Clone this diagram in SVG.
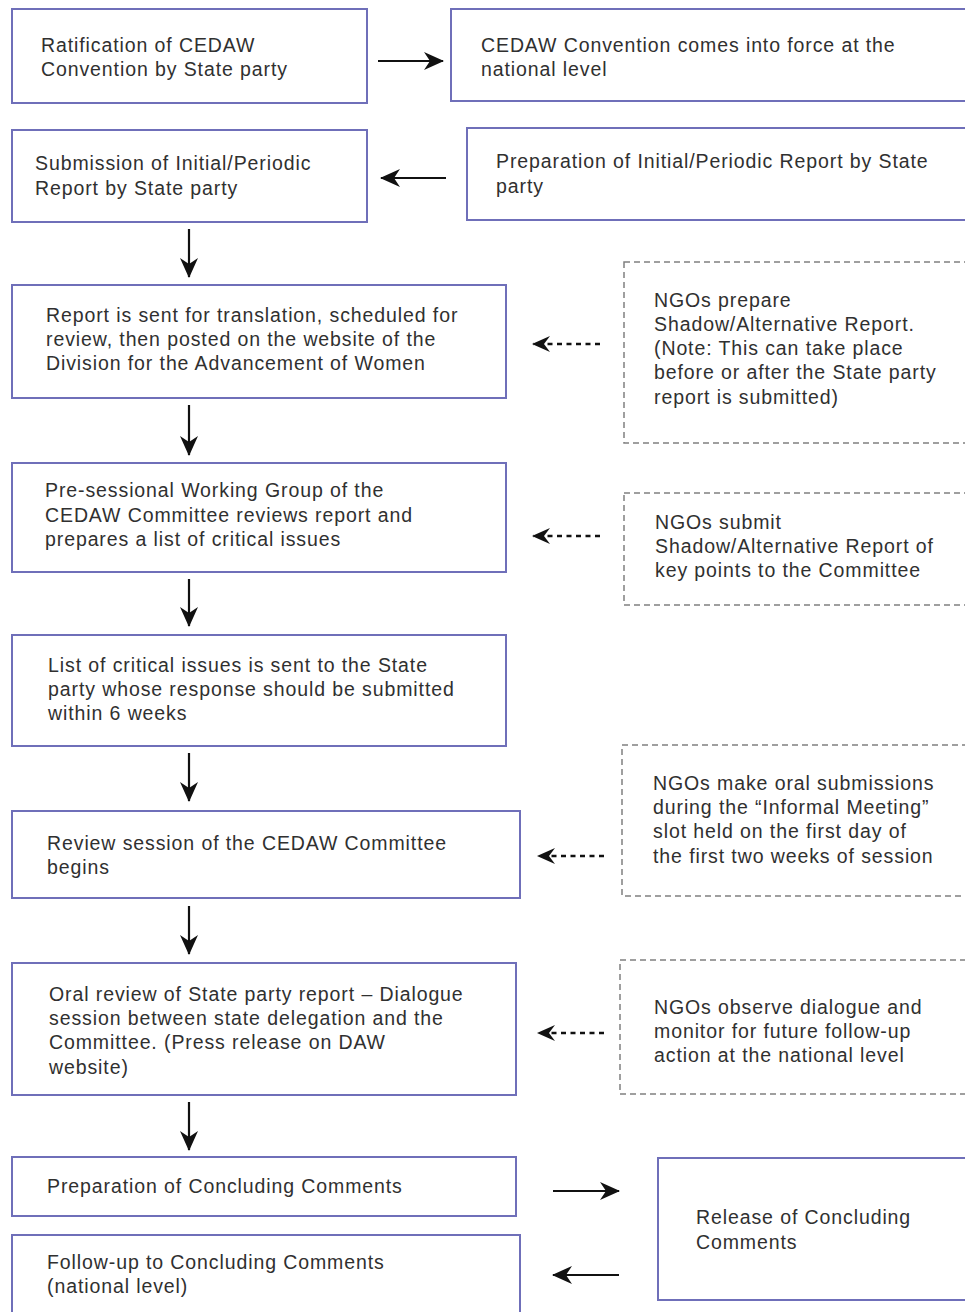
<svg xmlns="http://www.w3.org/2000/svg" width="965" height="1312" viewBox="0 0 965 1312">
<style>
.box{fill:#fff;stroke:#6f6fb9;stroke-width:2}
.dbox{fill:#fff;stroke:#808080;stroke-width:1.5;stroke-dasharray:6 4}
.t{font-family:"Liberation Sans",Arial,sans-serif;font-size:19.5px;letter-spacing:0.9px;fill:#303030}
.c{stroke:#111;stroke-width:2.2;fill:none}
.d{stroke:#111;stroke-width:2.4;fill:none;stroke-dasharray:5 4.5}
</style>
<defs>
<marker id="ah" markerWidth="20" markerHeight="18" refX="19" refY="9" orient="auto" markerUnits="userSpaceOnUse" overflow="visible">
<path d="M0,0 L20,9 L0,18 L6,9 Z" fill="#111"/>
</marker>
<marker id="ahs" markerWidth="18" markerHeight="16" refX="17" refY="8" orient="auto" markerUnits="userSpaceOnUse" overflow="visible">
<path d="M0,0 L18,8 L0,16 L6,8 Z" fill="#111"/>
</marker>
</defs>
<rect width="965" height="1312" fill="#fff"/>
<g id="n1"><rect class="box" x="12" y="9" width="355" height="94"/><text class="t" x="41" y="52">Ratification of CEDAW</text><text class="t" x="41" y="76">Convention by State party</text></g>
<g id="n2"><rect class="box" x="451" y="9" width="520" height="92"/><text class="t" x="481" y="52">CEDAW Convention comes into force at the</text><text class="t" x="481" y="76">national level</text></g>
<g id="n3"><rect class="box" x="12" y="130" width="355" height="92"/><text class="t" x="35" y="170">Submission of Initial/Periodic</text><text class="t" x="35" y="195">Report by State party</text></g>
<g id="n4"><rect class="box" x="467" y="128" width="504" height="92"/><text class="t" x="496" y="168">Preparation of Initial/Periodic Report by State</text><text class="t" x="496" y="193">party</text></g>
<g id="n5"><rect class="box" x="12" y="285" width="494" height="113"/><text class="t" x="46" y="322">Report is sent for translation, scheduled for</text><text class="t" x="46" y="346">review, then posted on the website of the</text><text class="t" x="46" y="370">Division for the Advancement of Women</text></g>
<g id="n6"><rect class="dbox" x="624" y="262" width="347" height="181"/><text class="t" x="654" y="307">NGOs prepare</text><text class="t" x="654" y="331">Shadow/Alternative Report.</text><text class="t" x="654" y="355">(Note: This can take place</text><text class="t" x="654" y="379">before or after the State party</text><text class="t" x="654" y="404">report is submitted)</text></g>
<g id="n7"><rect class="box" x="12" y="463" width="494" height="109"/><text class="t" x="45" y="497">Pre-sessional Working Group of the</text><text class="t" x="45" y="522">CEDAW Committee reviews report and</text><text class="t" x="45" y="546">prepares a list of critical issues</text></g>
<g id="n8"><rect class="dbox" x="624" y="493" width="347" height="112"/><text class="t" x="655" y="529">NGOs submit</text><text class="t" x="655" y="553">Shadow/Alternative Report of</text><text class="t" x="655" y="577">key points to the Committee</text></g>
<g id="n9"><rect class="box" x="12" y="635" width="494" height="111"/><text class="t" x="48" y="672">List of critical issues is sent to the State</text><text class="t" x="48" y="696">party whose response should be submitted</text><text class="t" x="48" y="720">within 6 weeks</text></g>
<g id="n10"><rect class="box" x="12" y="811" width="508" height="87"/><text class="t" x="47" y="850">Review session of the CEDAW Committee</text><text class="t" x="47" y="874">begins</text></g>
<g id="n11"><rect class="dbox" x="622" y="745" width="349" height="151"/><text class="t" x="653" y="790">NGOs make oral submissions</text><text class="t" x="653" y="814">during the “Informal Meeting”</text><text class="t" x="653" y="838">slot held on the first day of</text><text class="t" x="653" y="863">the first two weeks of session</text></g>
<g id="n12"><rect class="box" x="12" y="963" width="504" height="132"/><text class="t" x="49" y="1001">Oral review of State party report – Dialogue</text><text class="t" x="49" y="1025">session between state delegation and the</text><text class="t" x="49" y="1049">Committee. (Press release on DAW</text><text class="t" x="49" y="1074">website)</text></g>
<g id="n13"><rect class="dbox" x="620" y="960" width="351" height="134"/><text class="t" x="654" y="1014">NGOs observe dialogue and</text><text class="t" x="654" y="1038">monitor for future follow-up</text><text class="t" x="654" y="1062">action at the national level</text></g>
<g id="n14"><rect class="box" x="12" y="1157" width="504" height="59"/><text class="t" x="47" y="1193">Preparation of Concluding Comments</text></g>
<g id="n15"><rect class="box" x="12" y="1235" width="508" height="90"/><text class="t" x="47" y="1269">Follow-up to Concluding Comments</text><text class="t" x="47" y="1293">(national level)</text></g>
<g id="n16"><rect class="box" x="658" y="1158" width="313" height="142"/><text class="t" x="696" y="1224">Release of Concluding</text><text class="t" x="696" y="1249">Comments</text></g>
<g id="connectors">
<line class="c" x1="378" y1="61" x2="443" y2="61" marker-end="url(#ah)"/>
<line class="c" x1="446" y1="178" x2="381" y2="178" marker-end="url(#ah)"/>
<line class="c" x1="189" y1="229" x2="189" y2="277" marker-end="url(#ah)"/>
<line class="c" x1="189" y1="405" x2="189" y2="455" marker-end="url(#ah)"/>
<line class="c" x1="189" y1="579" x2="189" y2="626" marker-end="url(#ah)"/>
<line class="c" x1="189" y1="753" x2="189" y2="801" marker-end="url(#ah)"/>
<line class="c" x1="189" y1="906" x2="189" y2="954" marker-end="url(#ah)"/>
<line class="c" x1="189" y1="1102" x2="189" y2="1150" marker-end="url(#ah)"/>
<line class="d" x1="600" y1="344" x2="533" y2="344" marker-end="url(#ahs)"/>
<line class="d" x1="600" y1="536" x2="533" y2="536" marker-end="url(#ahs)"/>
<line class="d" x1="604" y1="856" x2="538" y2="856" marker-end="url(#ahs)"/>
<line class="d" x1="604" y1="1033" x2="538" y2="1033" marker-end="url(#ahs)"/>
<line class="c" x1="553" y1="1191" x2="619" y2="1191" marker-end="url(#ah)"/>
<line class="c" x1="619" y1="1275" x2="553" y2="1275" marker-end="url(#ah)"/>
</g>
</svg>
